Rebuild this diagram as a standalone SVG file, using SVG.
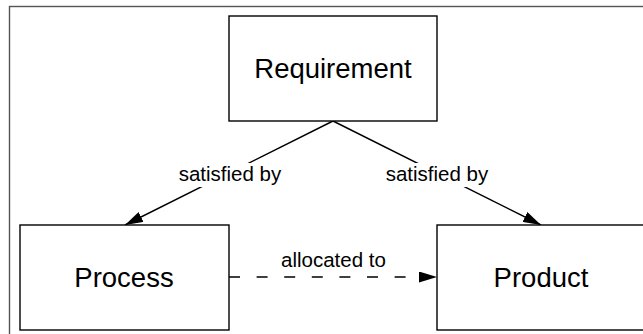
<svg xmlns="http://www.w3.org/2000/svg" width="643" height="334" viewBox="0 0 643 334">
<style>
.box{fill:#fff;stroke:#000;stroke-width:1.4}
.node{font-family:"Liberation Sans",Arial,sans-serif;font-size:27.5px;fill:#000;text-anchor:middle}
.lbl{font-family:"Liberation Sans",Arial,sans-serif;font-size:20.5px;fill:#000;text-anchor:middle}
.edge{fill:none;stroke:#000;stroke-width:1.4}
</style>
<defs>
<marker id="arr" viewBox="0 0 18 11" refX="18" refY="5.5" markerWidth="18" markerHeight="11" markerUnits="userSpaceOnUse" orient="auto">
<path d="M0,0 L18,5.5 L0,11 Z" fill="#000"/>
</marker>
</defs>
<rect x="0" y="0" width="643" height="334" fill="#fff"/>
<rect x="9.5" y="6.5" width="660" height="360" fill="none" stroke="#555" stroke-width="1.4"/>
<g id="connectors">
<line class="edge" x1="333" y1="121" x2="125" y2="225" marker-end="url(#arr)"/>
<line class="edge" x1="333" y1="121" x2="541" y2="225" marker-end="url(#arr)"/>
<line class="edge" x1="229" y1="277" x2="437" y2="277" stroke-dasharray="11,16.6" marker-end="url(#arr)"/>
<rect x="175" y="163" width="110" height="24" fill="#fff"/>
<text class="lbl" x="230" y="181">satisfied by</text>
<rect x="382" y="163" width="110" height="24" fill="#fff"/>
<text class="lbl" x="437" y="181">satisfied by</text>
<text class="lbl" x="333.5" y="267">allocated to</text>
</g>
<g id="requirement">
<rect class="box" x="229" y="16" width="208" height="105"/>
<text class="node" x="333" y="78">Requirement</text>
</g>
<g id="process">
<rect class="box" x="20" y="225" width="209" height="105"/>
<text class="node" x="124" y="287">Process</text>
</g>
<g id="product">
<rect class="box" x="437" y="225" width="220" height="105"/>
<text class="node" x="541" y="287">Product</text>
</g>
</svg>
